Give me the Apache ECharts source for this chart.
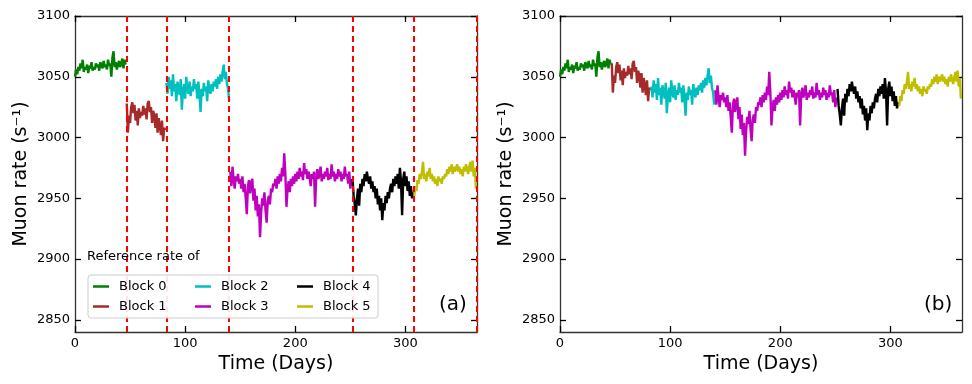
<!DOCTYPE html>
<html>
<head>
<meta charset="utf-8">
<script src="https://cdn.jsdelivr.net/npm/echarts@6/dist/echarts.min.js"></script>
<style>
  html, body { margin: 0; padding: 0; background: #fff; }
  #muonRate { width: 972px; height: 384px; }
</style>
</head>
<body>
<div id="muonRate"></div>
<script>
// block names, first day of each block and the red dashed block edges (days)
var blockNames = ['Block 0', 'Block 1', 'Block 2', 'Block 3', 'Block 4', 'Block 5'];
var blockStart = [0, 47, 83, 141, 252, 308];
var blockEdges = [47, 83, 140, 252, 308, 365];
var xTicks = [0, 100, 200, 300];
var yTicks = [2850, 2900, 2950, 3000, 3050, 3100];

// (a) raw muon rate, one value per day, per block
var rateA0 = [3050, 3056, 3052, 3058, 3055, 3061, 3057, 3064, 3054, 3058,
  3056, 3060, 3053, 3059, 3057, 3062, 3055, 3058, 3056, 3061,
  3058, 3060, 3055, 3062, 3059, 3057, 3063, 3058, 3060, 3056,
  3064, 3059, 3061, 3050, 3066, 3071, 3058, 3062, 3056, 3060,
  3063, 3058, 3061, 3065, 3057, 3064, 3060];
var rateA1 = [3028, 3004, 3018, 3012, 3025, 3029, 3020, 3027, 3014, 3022,
  3010, 3024, 3016, 3021, 3018, 3026, 3019, 3024, 3015, 3028,
  3030, 3021, 3025, 3012, 3022, 3018, 3008, 3020, 3004, 3016,
  3010, 3002, 3014, 2997, 3008, 3006];
var rateA2 = [3045, 3036, 3050, 3040, 3047, 3034, 3052, 3038, 3044, 3030,
  3046, 3041, 3035, 3048, 3023, 3038, 3044, 3032, 3050, 3040,
  3036, 3046, 3034, 3042, 3038, 3048, 3040, 3044, 3032, 3046,
  3036, 3021, 3040, 3034, 3045, 3038, 3042, 3030, 3047, 3040,
  3036, 3044, 3038, 3046, 3042, 3048, 3040, 3050, 3044, 3052,
  3046, 3054, 3060, 3048, 3054, 3044, 3040, 3030];
var rateA3 = [2972, 2960, 2976, 2966, 2958, 2968, 2964, 2970, 2962, 2966,
  2958, 2968, 2955, 2962, 2950, 2937, 2960, 2965, 2954, 2962,
  2966, 2948, 2958, 2940, 2952, 2935, 2945, 2918, 2938, 2950,
  2944, 2955, 2940, 2930, 2948, 2952, 2945, 2958, 2955, 2962,
  2960, 2966, 2958, 2968, 2962, 2970, 2964, 2975, 2968, 2987,
  2970, 2943, 2958, 2964, 2955, 2966, 2960, 2968, 2962, 2970,
  2964, 2972, 2966, 2975, 2968, 2972, 2965, 2979, 2970, 2974,
  2966, 2972, 2968, 2960, 2970, 2966, 2972, 2943, 2968, 2974,
  2966, 2970, 2976, 2964, 2970, 2966, 2972, 2968, 2975, 2965,
  2970, 2966, 2978, 2968, 2972, 2964, 2970, 2966, 2974, 2968,
  2972, 2964, 2970, 2966, 2976, 2968, 2970, 2962, 2972, 2958, 2966];
var rateA4 = [2966, 2952, 2945, 2936, 2950, 2958, 2944, 2962, 2955, 2966,
  2960, 2970, 2964, 2972, 2966, 2962, 2968, 2958, 2964, 2955,
  2960, 2950, 2958, 2945, 2952, 2940, 2950, 2932, 2946, 2940,
  2952, 2946, 2955, 2950, 2958, 2962, 2955, 2966, 2960, 2968,
  2962, 2970, 2958, 2975, 2964, 2936, 2966, 2972, 2960, 2968,
  2956, 2964, 2952, 2960, 2950, 2955];
var rateA5 = [2952, 2960, 2956, 2965, 2962, 2970, 2966, 2972, 2980, 2966,
  2970, 2964, 2972, 2968, 2975, 2966, 2970, 2964, 2968, 2962,
  2966, 2960, 2968, 2964, 2966, 2962, 2968, 2966, 2970, 2968,
  2974, 2970, 2976, 2972, 2978, 2970, 2976, 2972, 2975, 2978,
  2972, 2976, 2970, 2974, 2968, 2976, 2972, 2978, 2974, 2970,
  2976, 2980, 2972, 2981, 2968, 2975, 2958];

// (b) corrected muon rate
var rateB0 = rateA0;
var rateB1 = [3061, 3037, 3051, 3045, 3058, 3062, 3053, 3060, 3047, 3055,
  3043, 3057, 3049, 3054, 3051, 3059, 3052, 3057, 3048, 3061,
  3063, 3054, 3058, 3045, 3055, 3051, 3041, 3053, 3037, 3049,
  3043, 3035, 3047, 3030, 3041, 3039];
var rateB2 = [3042, 3033, 3047, 3037, 3044, 3031, 3049, 3035, 3041, 3027,
  3043, 3038, 3032, 3045, 3020, 3035, 3041, 3029, 3047, 3037,
  3033, 3043, 3031, 3039, 3035, 3045, 3037, 3041, 3029, 3043,
  3033, 3018, 3037, 3031, 3042, 3035, 3039, 3027, 3044, 3037,
  3033, 3041, 3035, 3043, 3039, 3045, 3037, 3047, 3041, 3049,
  3043, 3051, 3057, 3045, 3051, 3041, 3037, 3027];
var rateB3 = [3039, 3027, 3043, 3033, 3025, 3035, 3031, 3037, 3029, 3033,
  3025, 3035, 3022, 3029, 3017, 3004, 3027, 3032, 3021, 3029,
  3033, 3015, 3025, 3007, 3019, 3002, 3012, 2985, 3005, 3017,
  3011, 3022, 3007, 2997, 3015, 3019, 3012, 3025, 3022, 3029,
  3027, 3033, 3025, 3035, 3029, 3037, 3031, 3042, 3035, 3054,
  3037, 3010, 3025, 3031, 3022, 3033, 3027, 3035, 3029, 3037,
  3031, 3039, 3033, 3042, 3035, 3039, 3032, 3046, 3037, 3041,
  3033, 3039, 3035, 3027, 3037, 3033, 3039, 3010, 3035, 3041,
  3033, 3037, 3043, 3031, 3037, 3033, 3039, 3035, 3042, 3032,
  3037, 3033, 3045, 3035, 3039, 3031, 3037, 3033, 3041, 3035,
  3039, 3031, 3037, 3033, 3043, 3035, 3037, 3029, 3039, 3025, 3033];
var rateB4 = [3040, 3026, 3019, 3010, 3024, 3032, 3018, 3036, 3029, 3040,
  3034, 3044, 3038, 3046, 3040, 3036, 3042, 3032, 3038, 3029,
  3034, 3024, 3032, 3019, 3026, 3014, 3024, 3006, 3020, 3014,
  3026, 3020, 3029, 3024, 3032, 3036, 3029, 3040, 3034, 3042,
  3036, 3044, 3032, 3049, 3038, 3010, 3040, 3046, 3034, 3042,
  3030, 3038, 3026, 3034, 3024, 3029];
var rateB5 = [3026, 3034, 3030, 3039, 3036, 3044, 3040, 3046, 3054, 3040,
  3044, 3038, 3046, 3042, 3049, 3040, 3044, 3038, 3042, 3036,
  3040, 3034, 3042, 3038, 3040, 3036, 3042, 3040, 3044, 3042,
  3048, 3044, 3050, 3046, 3052, 3044, 3050, 3046, 3049, 3052,
  3046, 3050, 3044, 3048, 3042, 3050, 3046, 3052, 3048, 3044,
  3050, 3054, 3046, 3055, 3042, 3049, 3032];

var rateA = [rateA0, rateA1, rateA2, rateA3, rateA4, rateA5];
var rateB = [rateB0, rateB1, rateB2, rateB3, rateB4, rateB5];
var colors = ['#008000', '#a52a2a', '#00bfbf', '#bf00bf', '#000000', '#bfbf00'];

var font = 'DejaVu Sans';
var frame = '#333333';

function xAxisFor(grid, pos) {
  var bottom = pos === 'bottom';
  return {
    type: 'value', gridIndex: grid, position: pos, min: 0, max: 365,
    name: bottom ? 'Time (Days)' : '', nameLocation: 'middle', nameGap: 20,
    nameTextStyle: { fontFamily: font, fontSize: 19, color: '#000' },
    axisLine: { show: true, onZero: false, lineStyle: { color: frame, width: 1.3 } },
    axisTick: { show: true, inside: true, length: 6, customValues: xTicks, lineStyle: { color: '#000', width: 1.3 } },
    axisLabel: { show: bottom, customValues: xTicks, margin: 5, fontFamily: font, fontSize: 13, color: '#000',
      formatter: function (v) { return String(v); } },
    splitLine: { show: false }
  };
}

function yAxisFor(grid, pos) {
  var left = pos === 'left';
  return {
    type: 'value', gridIndex: grid, position: pos, min: 2840, max: 3100,
    name: left ? 'Muon rate (s\u207B\u00B9)' : '', nameLocation: 'middle', nameGap: 44,
    nameTextStyle: { fontFamily: font, fontSize: 19, color: '#000' },
    axisLine: { show: true, onZero: false, lineStyle: { color: frame, width: 1.3 } },
    axisTick: { show: true, inside: true, length: 6, customValues: yTicks, lineStyle: { color: '#000', width: 1.3 } },
    axisLabel: { show: left, customValues: yTicks, margin: 5, fontFamily: font, fontSize: 13, color: '#000',
      formatter: function (v) { return String(v); } },
    splitLine: { show: false }
  };
}

var seriesArr = [];
[rateA, rateB].forEach(function (panel, p) {
  panel.forEach(function (vals, k) {
    var s = {
      name: blockNames[k],
      type: 'line',
      xAxisIndex: p * 2,
      yAxisIndex: p * 2,
      showSymbol: false,
      symbol: 'none',
      lineStyle: { color: colors[k], width: 2.4 },
      itemStyle: { color: colors[k] },
      z: 2,
      data: vals.map(function (v, i) { return [blockStart[k] + i, v]; })
    };
    if (p === 0 && k === 0) {
      s.markLine = {
        silent: true, symbol: 'none', label: { show: false }, z: 3,
        lineStyle: { color: '#ff0000', type: [6, 4], width: 2 },
        data: blockEdges.map(function (d) { return { xAxis: d }; })
      };
    }
    seriesArr.push(s);
  });
});

var legendCols = [['Block 0', 'Block 1'], ['Block 2', 'Block 3'], ['Block 4', 'Block 5']];
var legendLeft = [93, 195, 297];
var legends = legendCols.map(function (col, c) {
  return {
    data: col, orient: 'vertical', left: legendLeft[c], top: 279, padding: 0,
    itemGap: 5, itemWidth: 16, itemHeight: 2.5, icon: 'rect', z: 60,
    textStyle: { fontFamily: font, fontSize: 13, color: '#000', padding: [0, 0, 0, 5], lineHeight: 15 }
  };
});

var myChart = echarts.init(document.getElementById('muonRate'));
var option = {
  animation: false,
  backgroundColor: '#fff',
  grid: [
    { left: 75, top: 16, width: 402, height: 316 },
    { left: 560, top: 16, width: 402, height: 316 }
  ],
  xAxis: [xAxisFor(0, 'bottom'), xAxisFor(0, 'top'), xAxisFor(1, 'bottom'), xAxisFor(1, 'top')],
  yAxis: [yAxisFor(0, 'left'), yAxisFor(0, 'right'), yAxisFor(1, 'left'), yAxisFor(1, 'right')],
  title: [
    { text: '(a)', left: 434, top: 290, textStyle: { fontFamily: font, fontSize: 20, fontWeight: 'normal', color: '#000' } },
    { text: '(b)', left: 919, top: 290, textStyle: { fontFamily: font, fontSize: 20, fontWeight: 'normal', color: '#000' } }
  ],
  legend: legends,
  graphic: {
    elements: [
      { type: 'rect', z: 50, shape: { x: 88, y: 275, width: 290, height: 43, r: 3 },
        style: { fill: 'rgba(255,255,255,0.9)', stroke: '#cccccc', lineWidth: 1 } },
      { type: 'text', z: 50, left: 87, top: 250,
        style: { text: 'Reference rate of', font: '13px "DejaVu Sans"', fill: '#000' } }
    ]
  },
  series: seriesArr
};
myChart.setOption(option);
</script>
</body>
</html>
